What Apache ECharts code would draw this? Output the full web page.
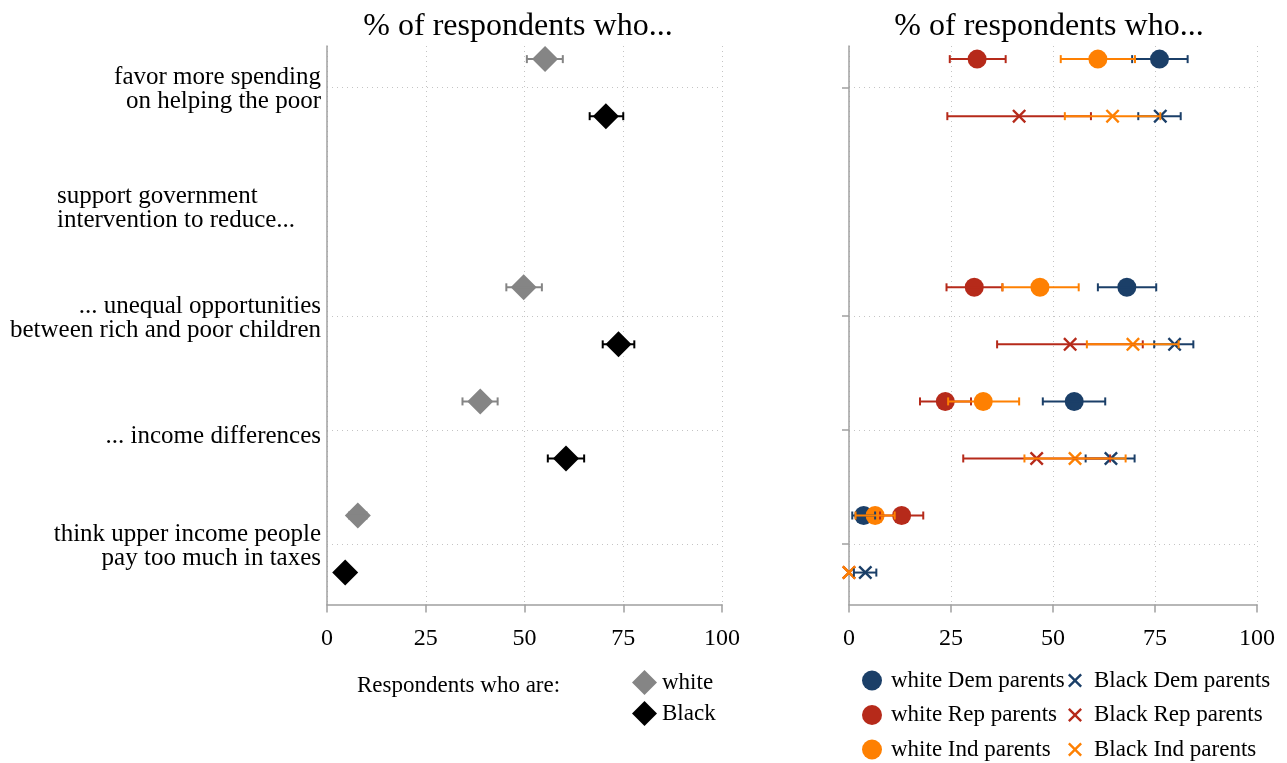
<!DOCTYPE html>
<html><head><meta charset="utf-8">
<script src="https://cdn.jsdelivr.net/npm/echarts@6/dist/echarts.min.js"></script>
<style>html,body{margin:0;padding:0;background:#fff}#c{width:1287px;height:763px}</style>
</head><body><div id="c"></div>
<script>
const categories = ['favor more spending\non helping the poor', 'support government\nintervention to reduce...', '... unequal opportunities\nbetween rich and poor children', '... income differences', 'think upper income people\npay too much in taxes'];
const xTicks = [0, 25, 50, 75, 100];
const panelTitle = '% of respondents who...';
const legendLeftTitle = 'Respondents who are:';
// left panel: respondents by race
const whiteMean = [55.2, null, 49.8, 38.8, 7.8];
const whiteLow  = [50.6, null, 45.4, 34.3, 5.6];
const whiteHigh = [59.7, null, 54.4, 43.2, 10.0];
const blackMean = [70.6, null, 73.8, 60.5, 4.6];
const blackLow  = [66.5, null, 69.8, 55.9, 2.8];
const blackHigh = [75.0, null, 77.8, 65.1, 6.4];
// right panel: by race and parents' party
const wDemMean = [76.1, null, 68.1, 55.2, 3.6];
const wDemLow  = [69.4, null, 61.0, 47.5, 0.8];
const wDemHigh = [83.0, null, 75.3, 62.8, 6.4];
const wRepMean = [31.4, null, 30.7, 23.6, 12.9];
const wRepLow  = [24.7, null, 23.9, 17.4, 7.6];
const wRepHigh = [38.4, null, 37.6, 29.9, 18.2];
const wIndMean = [61.0, null, 46.8, 32.9, 6.4];
const wIndLow  = [51.9, null, 37.6, 24.3, 1.6];
const wIndHigh = [70.1, null, 56.3, 41.7, 11.2];
const bDemMean = [76.3, null, 79.8, 64.2, 4.0];
const bDemLow  = [70.9, null, 74.8, 58.0, 1.2];
const bDemHigh = [81.3, null, 84.4, 70.0, 6.7];
const bRepMean = [41.7, null, 54.2, 46.0, 0.0];
const bRepLow  = [24.1, null, 36.3, 28.0, null];
const bRepHigh = [59.3, null, 72.0, 64.0, null];
const bIndMean = [64.6, null, 69.6, 55.4, 0.0];
const bIndLow  = [52.9, null, 58.3, 43.0, null];
const bIndHigh = [76.3, null, 80.8, 67.8, null];

const FONT = 'Liberation Serif';
const NAVY = '#1b3f68', RED = '#b62a1a', ORANGE = '#fe8002', GRAY = '#858585', BLACK = '#000000';
const XICON = 'path://M0,1.2L1.2,0L5,3.8L8.8,0L10,1.2L6.2,5L10,8.8L8.8,10L5,6.2L1.2,10L0,8.8L3.8,5Z';

function pts(mean, off) {
  const out = [];
  mean.forEach((v, i) => { if (v != null) out.push([v, i + off]); });
  return out;
}
function bars(lo, hi, off) {
  const out = [];
  lo.forEach((v, i) => { if (v != null && hi[i] != null) out.push([v, hi[i], i + off]); });
  return out;
}
function errRender(color, lw, cap) {
  return function (params, api) {
    const a = api.coord([api.value(0), api.value(2)]);
    const b = api.coord([api.value(1), api.value(2)]);
    const h = cap / 2;
    const st = { stroke: color, lineWidth: lw };
    return { type: 'group', children: [
      { type: 'line', shape: { x1: a[0], y1: a[1], x2: b[0], y2: b[1] }, style: st },
      { type: 'line', shape: { x1: a[0], y1: a[1] - h, x2: a[0], y2: a[1] + h }, style: st },
      { type: 'line', shape: { x1: b[0], y1: b[1] - h, x2: b[0], y2: b[1] + h }, style: st }
    ]};
  };
}
function errSeries(name, lo, hi, off, color, lw, axis) {
  return { type: 'custom', name: name, xAxisIndex: axis, yAxisIndex: axis, z: 3,
    renderItem: errRender(color, lw, 8), encode: { x: [0, 1], y: 2 },
    data: bars(lo, hi, off), silent: true };
}
function markSeries(name, mean, off, color, symbol, size, axis) {
  return { type: 'scatter', name: name, xAxisIndex: axis, yAxisIndex: axis, z: 2,
    symbol: symbol, symbolSize: size, itemStyle: { color: color, opacity: 1 },
    data: pts(mean, off) };
}

const gridLine = { show: true, lineStyle: { color: '#c4c4c4', width: 1, type: [1, 4] } };
const axisLineStyle = { show: true, onZero: false, lineStyle: { color: '#a0a0a0', width: 1.5 } };

function xAxis(idx) {
  return { type: 'value', gridIndex: idx, min: xTicks[0], max: xTicks[xTicks.length - 1], interval: 25,
    axisLine: axisLineStyle, axisTick: { show: true, length: 8, lineStyle: { color: '#a0a0a0', width: 1.5 } },
    axisLabel: { color: '#000', fontFamily: FONT, fontSize: 24, margin: 22 },
    splitLine: gridLine };
}
function yLabel(v) {
  const i = Math.round(v);
  if (i === 1) return '{blk|' + categories[i].split('\n').join('}\n{blk|') + '}';
  return categories[i];
}
function yAxis(idx, labels) {
  return { type: 'value', gridIndex: idx, inverse: true, min: -0.365, max: 4.53,
    axisLine: axisLineStyle,
    axisTick: { show: !labels, length: 7, customValues: [0, 2, 3, 4], lineStyle: { color: '#a0a0a0', width: 1.5 } },
    axisLabel: { show: labels, customValues: [0.02, 1.06, 2.02, 3.06, 4.02], formatter: yLabel,
      color: '#000', fontFamily: FONT, fontSize: 25, lineHeight: 24, margin: 6,
      rich: { blk: { width: 264, align: 'left', fontFamily: FONT, fontSize: 25, lineHeight: 24, color: '#000' } } },
    splitLine: gridLine };
}

const chart = echarts.init(document.getElementById('c'), null, { renderer: 'canvas' });
chart.setOption({
  backgroundColor: '#fff',
  animation: false,
  grid: [
    { left: 327, right: 565, top: 46, bottom: 158.5 },
    { left: 849, right: 30, top: 46, bottom: 158.5 }
  ],
  xAxis: [xAxis(0), xAxis(1)],
  yAxis: [yAxis(0, true), yAxis(1, false)],
  graphic: [
    { type: 'text', x: 518, y: 27, style: { text: panelTitle, font: '32px "Liberation Serif"', fill: '#000', align: 'center', verticalAlign: 'middle' } },
    { type: 'text', x: 1049, y: 27, style: { text: panelTitle, font: '32px "Liberation Serif"', fill: '#000', align: 'center', verticalAlign: 'middle' } },
    { type: 'text', x: 357, y: 686, style: { text: legendLeftTitle, font: '23px "Liberation Serif"', fill: '#000', align: 'left', verticalAlign: 'middle' } }
  ],
  legend: [
    { orient: 'vertical', left: 632, top: 670, padding: 0, itemWidth: 25, itemHeight: 25, itemGap: 6,
      textStyle: { fontFamily: FONT, fontSize: 23, color: '#000' },
      data: [{ name: 'white', icon: 'diamond' }, { name: 'Black', icon: 'diamond' }] },
    { orient: 'vertical', left: 862, top: 669, padding: 0, itemWidth: 20, itemHeight: 20, itemGap: 11.5,
      textStyle: { fontFamily: FONT, fontSize: 23, lineHeight: 22, color: '#000', padding: [0, 0, 0, 4] },
      data: [{ name: 'white Dem parents', icon: 'circle' }, { name: 'white Rep parents', icon: 'circle' }, { name: 'white Ind parents', icon: 'circle' }] },
    { orient: 'vertical', left: 1068, top: 669, padding: 0, itemWidth: 14, itemHeight: 14, itemGap: 11.5,
      textStyle: { fontFamily: FONT, fontSize: 23, lineHeight: 22, color: '#000', padding: [0, 0, 0, 7] },
      data: [{ name: 'Black Dem parents', icon: XICON }, { name: 'Black Rep parents', icon: XICON }, { name: 'Black Ind parents', icon: XICON }] }
  ],
  series: [
    markSeries('white', whiteMean, -0.25, GRAY, 'diamond', 26, 0),
    markSeries('Black', blackMean, 0.25, BLACK, 'diamond', 26, 0),
    errSeries('white_ci', whiteLow, whiteHigh, -0.25, GRAY, 2, 0),
    errSeries('Black_ci', blackLow, blackHigh, 0.25, BLACK, 2, 0),

    markSeries('white Dem parents', wDemMean, -0.25, NAVY, 'circle', 19, 1),
    markSeries('white Rep parents', wRepMean, -0.25, RED, 'circle', 19, 1),
    markSeries('white Ind parents', wIndMean, -0.25, ORANGE, 'circle', 19, 1),
    markSeries('Black Dem parents', bDemMean, 0.25, NAVY, XICON, 14, 1),
    markSeries('Black Rep parents', bRepMean, 0.25, RED, XICON, 14, 1),
    markSeries('Black Ind parents', bIndMean, 0.25, ORANGE, XICON, 14, 1),
    errSeries('wDem_ci', wDemLow, wDemHigh, -0.25, NAVY, 2, 1),
    errSeries('wRep_ci', wRepLow, wRepHigh, -0.25, RED, 2, 1),
    errSeries('wInd_ci', wIndLow, wIndHigh, -0.25, ORANGE, 2, 1),
    errSeries('bDem_ci', bDemLow, bDemHigh, 0.25, NAVY, 2, 1),
    errSeries('bRep_ci', bRepLow, bRepHigh, 0.25, RED, 2, 1),
    errSeries('bInd_ci', bIndLow, bIndHigh, 0.25, ORANGE, 2, 1)
  ]
});
</script></body></html>
